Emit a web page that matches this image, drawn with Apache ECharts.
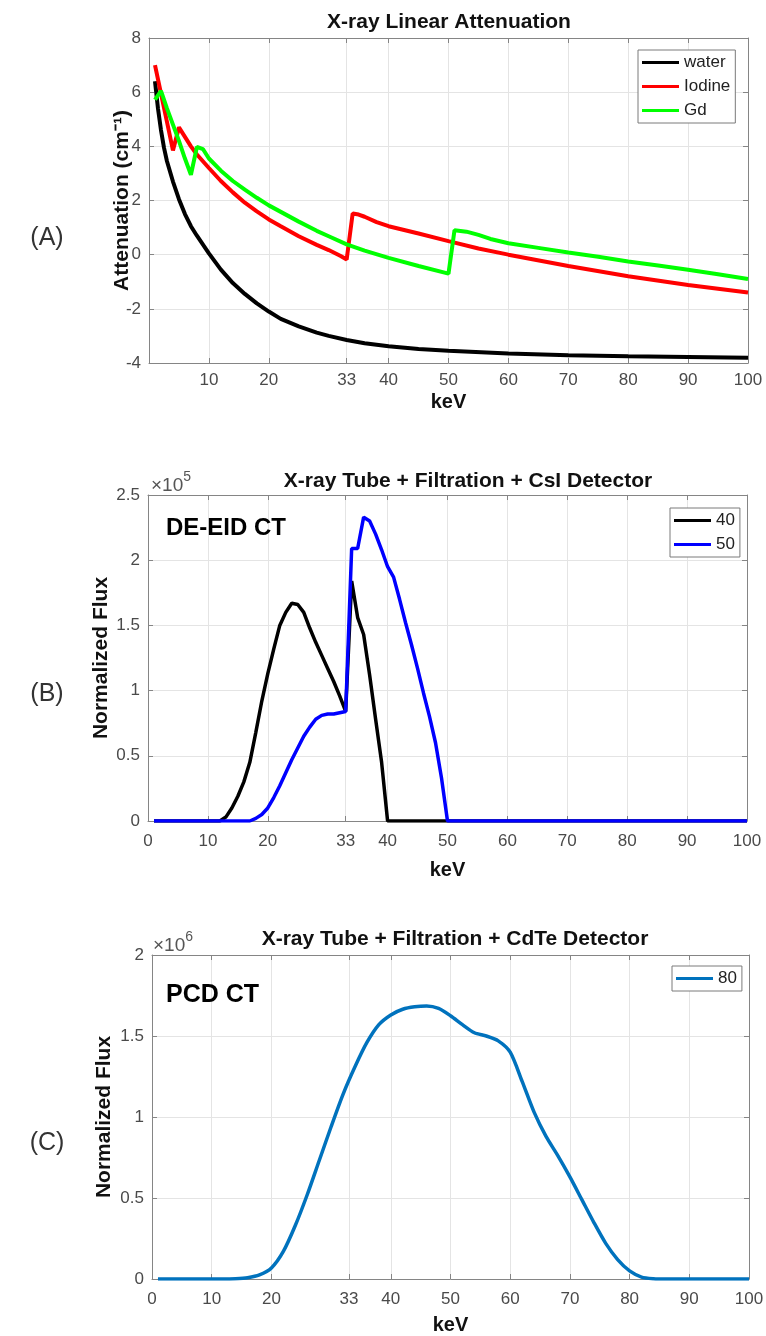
<!DOCTYPE html>
<html>
<head>
<meta charset="utf-8">
<title>X-ray attenuation and spectra</title>
<script src="https://cdn.jsdelivr.net/npm/echarts@6.0.0/dist/echarts.min.js"></script>
<style>
    html, body { margin: 0; padding: 0; background: #fff; }
    #chart { width: 766px; height: 1336px; }
</style>
</head>
<body>
<div id="chart"></div>
<script>
    // ---- data ----
    // x ticks (the 33 keV iodine K-edge replaces 30)
    var keVTicks = [0, 10, 20, 33, 40, 50, 60, 70, 80, 90, 100];
    var keVLabelsA = [10, 20, 33, 40, 50, 60, 70, 80, 90, 100];

    // (A) linear attenuation
    var waterKeV = [1, 1.5, 2, 2.5, 3, 4, 5, 6, 7, 8, 10, 12, 14, 16, 18, 20, 22, 25, 28, 30, 33, 36, 40, 45, 50, 60, 70, 80, 90, 100];
    var waterAtt = [6.4, 5.4, 4.6, 3.95, 3.45, 2.7, 2.05, 1.5, 1.05, 0.7, 0.05, -0.55, -1.05, -1.45, -1.8, -2.1, -2.37, -2.65, -2.88, -3.0, -3.15, -3.27, -3.38, -3.48, -3.55, -3.65, -3.71, -3.75, -3.78, -3.81];

    var iodineKeV = [1, 2, 3, 4, 5, 6, 7, 8, 9, 10, 12, 14, 16, 18, 20, 22, 25, 28, 30, 32, 33, 34, 35, 36, 38, 40, 45, 50, 55, 60, 70, 80, 90, 100];
    var iodineAtt = [7.0, 5.95, 4.9, 3.85, 4.7, 4.35, 4.0, 3.7, 3.45, 3.2, 2.72, 2.3, 1.92, 1.6, 1.3, 1.05, 0.68, 0.36, 0.17, -0.05, -0.18, 1.52, 1.48, 1.4, 1.2, 1.05, 0.78, 0.5, 0.23, 0.0, -0.42, -0.8, -1.12, -1.4];

    var gdKeV = [1, 2, 3, 4, 5, 6, 7, 8, 9, 10, 12, 14, 16, 18, 20, 22, 25, 28, 30, 33, 36, 40, 45, 50, 51, 53, 55, 57, 60, 65, 70, 75, 80, 85, 90, 95, 100];
    var gdAtt = [5.72, 6.05, 5.4, 4.8, 4.2, 3.55, 2.95, 3.98, 3.9, 3.55, 3.1, 2.72, 2.4, 2.1, 1.82, 1.58, 1.22, 0.88, 0.68, 0.38, 0.15, -0.12, -0.42, -0.7, 0.9, 0.85, 0.73, 0.58, 0.42, 0.25, 0.08, -0.08, -0.25, -0.4, -0.56, -0.72, -0.9];

    // (B) DE-EID CT, normalized flux in units of 1e5
    var kvp40KeV = [1, 12, 13, 14, 15, 16, 17, 18, 19, 20, 21, 22, 23, 24, 25, 26, 27, 28, 29, 30, 31, 32, 33, 34, 35, 36, 37, 38, 39, 40, 100];
    var kvp40Flux = [0, 0, 0.03, 0.1, 0.19, 0.3, 0.45, 0.68, 0.92, 1.13, 1.32, 1.5, 1.6, 1.67, 1.66, 1.6, 1.48, 1.37, 1.27, 1.17, 1.07, 0.96, 0.84, 1.84, 1.56, 1.43, 1.12, 0.78, 0.45, 0, 0];

    var kvp50KeV = [1, 17, 18, 19, 20, 21, 22, 23, 24, 25, 26, 27, 28, 29, 30, 31, 32, 33, 34, 35, 36, 37, 38, 39, 40, 41, 42, 43, 44, 45, 46, 47, 48, 49, 50, 100];
    var kvp50Flux = [0, 0, 0.02, 0.05, 0.1, 0.18, 0.27, 0.37, 0.47, 0.56, 0.65, 0.72, 0.78, 0.81, 0.82, 0.82, 0.83, 0.84, 2.09, 2.09, 2.33, 2.3, 2.2, 2.08, 1.95, 1.87, 1.7, 1.52, 1.35, 1.17, 0.98, 0.8, 0.6, 0.33, 0, 0];

    // (C) PCD CT, normalized flux in units of 1e6
    var kvp80KeV = [1, 12, 14, 16, 18, 20, 22, 24, 26, 28, 30, 32, 34, 36, 38, 40, 42, 44, 46, 48, 50, 52, 54, 56, 58, 60, 62, 64, 66, 68, 70, 72, 74, 76, 78, 80, 82, 84, 86, 100];
    var kvp80Flux = [0, 0, 0.002, 0.008, 0.025, 0.068, 0.17, 0.33, 0.52, 0.73, 0.94, 1.14, 1.31, 1.46, 1.57, 1.63, 1.665, 1.68, 1.685, 1.67, 1.625, 1.57, 1.52, 1.5, 1.47, 1.4, 1.22, 1.03, 0.88, 0.76, 0.63, 0.49, 0.35, 0.22, 0.12, 0.05, 0.012, 0.002, 0, 0];

    // ---- helpers ----
    var FONT = '"Liberation Sans", Arial, Helvetica, sans-serif';
    var AXIS_GRAY = '#858585';
    var LABEL_GRAY = '#4a4a4a';

    function zip(xs, ys) {
        return xs.map(function (x, i) { return [x, ys[i]]; });
    }

    function bottomAxis(grid, labels, margin, nameGap) {
        return {
            type: 'value', gridIndex: grid, min: 0, max: 100, position: 'bottom',
            name: 'keV', nameLocation: 'middle', nameGap: nameGap,
            nameTextStyle: { fontFamily: FONT, fontSize: 20, fontWeight: 'bold', color: '#111' },
            axisLine: { show: true, onZero: false, lineStyle: { color: AXIS_GRAY } },
            axisTick: { show: true, inside: true, length: 5, customValues: keVTicks, lineStyle: { color: AXIS_GRAY } },
            axisLabel: { customValues: labels, margin: margin, fontFamily: FONT, fontSize: 17, color: LABEL_GRAY },
            splitLine: { show: true, lineStyle: { color: '#e4e4e4' } }
        };
    }
    function topAxis(grid) {
        return {
            type: 'value', gridIndex: grid, min: 0, max: 100, position: 'top',
            axisLine: { show: true, onZero: false, lineStyle: { color: AXIS_GRAY } },
            axisTick: { show: true, inside: true, length: 5, customValues: keVTicks, lineStyle: { color: AXIS_GRAY } },
            axisLabel: { show: false },
            splitLine: { show: false }
        };
    }
    function leftAxis(grid, min, max, step, name, nameGap) {
        return {
            type: 'value', gridIndex: grid, min: min, max: max, interval: step, position: 'left',
            name: name, nameLocation: 'middle', nameGap: nameGap, nameMoveOverlap: false,
            nameTextStyle: { fontFamily: FONT, fontSize: 21, fontWeight: 'bold', color: '#111' },
            axisLine: { show: true, onZero: false, lineStyle: { color: AXIS_GRAY } },
            axisTick: { show: true, inside: true, length: 5, lineStyle: { color: AXIS_GRAY } },
            axisLabel: { margin: 8, fontFamily: FONT, fontSize: 17, color: LABEL_GRAY },
            splitLine: { show: true, lineStyle: { color: '#e4e4e4' } }
        };
    }
    function rightAxis(grid, min, max, step) {
        return {
            type: 'value', gridIndex: grid, min: min, max: max, interval: step, position: 'right',
            axisLine: { show: true, onZero: false, lineStyle: { color: AXIS_GRAY } },
            axisTick: { show: true, inside: true, length: 5, lineStyle: { color: AXIS_GRAY } },
            axisLabel: { show: false },
            splitLine: { show: false }
        };
    }
    function line(name, xAx, yAx, data, color, width, smooth) {
        return {
            type: 'line', name: name, xAxisIndex: xAx, yAxisIndex: yAx,
            data: data, showSymbol: false, smooth: smooth || false,
            lineStyle: { color: color, width: width },
            itemStyle: { color: color },
            emphasis: { disabled: true }
        };
    }
    function legendBox(names, left, top) {
        return {
            data: names, orient: 'vertical', left: left, top: top,
            icon: 'rect', itemWidth: 37, itemHeight: 3, itemGap: 5,
            padding: [3, 5, 3, 4], selectedMode: false,
            backgroundColor: '#fff', borderColor: '#7a7a7a', borderWidth: 1,
            textStyle: { fontFamily: FONT, fontSize: 17, color: '#222', lineHeight: 19 }
        };
    }
    function txt(text, x, y, size, weight, color, align) {
        return {
            type: 'text', x: x, y: y, z: 100,
            style: {
                text: text, fontFamily: FONT, fontSize: size, fontWeight: weight,
                fill: color, align: align || 'center', verticalAlign: 'middle'
            }
        };
    }
    function exponent(power, x, y) {
        return {
            type: 'text', x: x, y: y, z: 100,
            style: {
                text: '{b|\u00d710}{s|' + power + '}', align: 'left', verticalAlign: 'middle',
                rich: {
                    b: { fontFamily: FONT, fontSize: 19, fill: '#555', color: '#555', verticalAlign: 'bottom' },
                    s: { fontFamily: FONT, fontSize: 14, fill: '#555', color: '#555', verticalAlign: 'top', padding: [0, 0, 11, 0] }
                }
            }
        };
    }

    var myChart = echarts.init(document.getElementById('chart'), null, { renderer: 'canvas' });

    myChart.setOption({
        animation: false,
        backgroundColor: '#fff',
        grid: [
            { left: 149, top: 38, width: 599, height: 325, outerBoundsMode: 'none', show: false },
            { left: 148, top: 495, width: 599, height: 326, outerBoundsMode: 'none', show: false },
            { left: 152, top: 955, width: 597, height: 324, outerBoundsMode: 'none', show: false }
        ],
        xAxis: [
            bottomAxis(0, keVLabelsA, 9, 29), topAxis(0),
            bottomAxis(1, keVTicks, 12, 39), topAxis(1),
            bottomAxis(2, keVTicks, 12, 36), topAxis(2)
        ],
        yAxis: [
            leftAxis(0, -4, 8, 2, 'Attenuation (cm\u207b\u00b9)', 16), rightAxis(0, -4, 8, 2),
            leftAxis(1, 0, 2.5, 0.5, 'Normalized Flux', 36), rightAxis(1, 0, 2.5, 0.5),
            leftAxis(2, 0, 2, 0.5, 'Normalized Flux', 37), rightAxis(2, 0, 2, 0.5)
        ],
        legend: [
            legendBox(['water', 'Iodine', 'Gd'], 638, 50),
            legendBox(['40', '50'], 670, 508),
            legendBox(['80'], 672, 966)
        ],
        graphic: [
            txt('X-ray Linear Attenuation', 449, 22, 21, 'bold', '#111'),
            txt('X-ray Tube + Filtration + CsI Detector', 468, 481, 21, 'bold', '#111'),
            txt('X-ray Tube + Filtration + CdTe Detector', 455, 939, 21, 'bold', '#111'),
            txt('(A)', 47, 238, 25, 'normal', '#333'),
            txt('(B)', 47, 694, 25, 'normal', '#333'),
            txt('(C)', 47, 1143, 25, 'normal', '#333'),
            txt('DE-EID CT', 166, 528, 24, 'bold', '#000', 'left'),
            txt('PCD CT', 166, 995, 25, 'bold', '#000', 'left'),
            exponent(5, 151, 483),
            exponent(6, 153, 943)
        ],
        series: [
            line('water', 0, 0, zip(waterKeV, waterAtt), '#000000', 4),
            line('Iodine', 0, 0, zip(iodineKeV, iodineAtt), '#ff0000', 4),
            line('Gd', 0, 0, zip(gdKeV, gdAtt), '#00ff00', 4),
            line('40', 2, 2, zip(kvp40KeV, kvp40Flux), '#000000', 3.5),
            line('50', 2, 2, zip(kvp50KeV, kvp50Flux), '#0000ff', 3.5),
            line('80', 4, 4, zip(kvp80KeV, kvp80Flux), '#0072bd', 3.5, 0.25)
        ]
    });
</script>
</body>
</html>
